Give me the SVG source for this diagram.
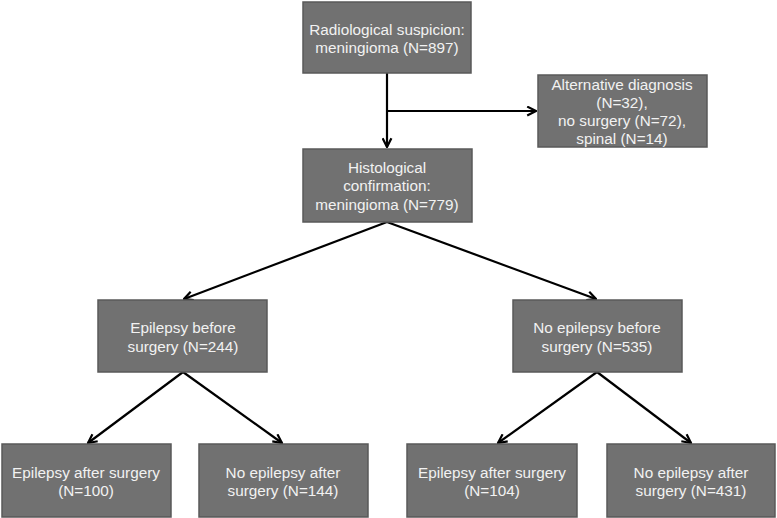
<svg xmlns="http://www.w3.org/2000/svg" width="777" height="518" viewBox="0 0 777 518">
<style>
.box{fill:#717171;stroke:#595959;stroke-width:1.5}
.t{font-family:"Liberation Sans",Arial,sans-serif;font-size:15.3px;fill:#f2f2f2;text-anchor:middle}
.c{stroke:#000;stroke-width:2.2;fill:none}
</style>
<defs>
<marker id="ah" viewBox="0 0 10 10" refX="9" refY="5" markerWidth="11" markerHeight="11" markerUnits="userSpaceOnUse" orient="auto">
<path d="M1,1 L9,5 L1,9" fill="none" stroke="#000" stroke-width="2"/>
</marker>
</defs>
<rect width="777" height="518" fill="#fff"/>
<g id="connectors">
<path class="c" d="M387,73 V147" marker-end="url(#ah)"/>
<path class="c" d="M387,111 H536" marker-end="url(#ah)"/>
<path class="c" d="M387,222 L184,299" marker-end="url(#ah)"/>
<path class="c" d="M387,222 L596,299" marker-end="url(#ah)"/>
<path class="c" d="M183,372 L88,443" marker-end="url(#ah)"/>
<path class="c" d="M183,372 L282,443" marker-end="url(#ah)"/>
<path class="c" d="M597,372 L498,443" marker-end="url(#ah)"/>
<path class="c" d="M597,372 L691,443" marker-end="url(#ah)"/>
</g>
<g id="radiological">
<rect class="box" x="303" y="2" width="168" height="71"/>
<text class="t" x="387" y="35">Radiological suspicion:</text>
<text class="t" x="387" y="53">meningioma (N=897)</text>
</g>
<g id="alternative">
<rect class="box" x="538" y="75" width="169" height="72"/>
<text class="t" x="622" y="90">Alternative diagnosis</text>
<text class="t" x="622" y="108">(N=32),</text>
<text class="t" x="622" y="126">no surgery (N=72),</text>
<text class="t" x="622" y="144">spinal (N=14)</text>
</g>
<g id="histological">
<rect class="box" x="303" y="149" width="169" height="73"/>
<text class="t" x="387" y="173">Histological</text>
<text class="t" x="387" y="191">confirmation:</text>
<text class="t" x="387" y="210">meningioma (N=779)</text>
</g>
<g id="epi-before">
<rect class="box" x="98" y="300" width="169" height="72"/>
<text class="t" x="183" y="333">Epilepsy before</text>
<text class="t" x="183" y="352">surgery (N=244)</text>
</g>
<g id="noepi-before">
<rect class="box" x="513" y="300" width="169" height="72"/>
<text class="t" x="597" y="333">No epilepsy before</text>
<text class="t" x="597" y="352">surgery (N=535)</text>
</g>
<g id="epi-after-1">
<rect class="box" x="2" y="444" width="169" height="73"/>
<text class="t" x="86" y="478">Epilepsy after surgery</text>
<text class="t" x="86" y="496">(N=100)</text>
</g>
<g id="noepi-after-1">
<rect class="box" x="199" y="444" width="169" height="73"/>
<text class="t" x="283" y="478">No epilepsy after</text>
<text class="t" x="283" y="496">surgery (N=144)</text>
</g>
<g id="epi-after-2">
<rect class="box" x="407" y="444" width="170" height="73"/>
<text class="t" x="492" y="478">Epilepsy after surgery</text>
<text class="t" x="492" y="496">(N=104)</text>
</g>
<g id="noepi-after-2">
<rect class="box" x="607" y="444" width="168" height="73"/>
<text class="t" x="691" y="478">No epilepsy after</text>
<text class="t" x="691" y="496">surgery (N=431)</text>
</g>
</svg>
